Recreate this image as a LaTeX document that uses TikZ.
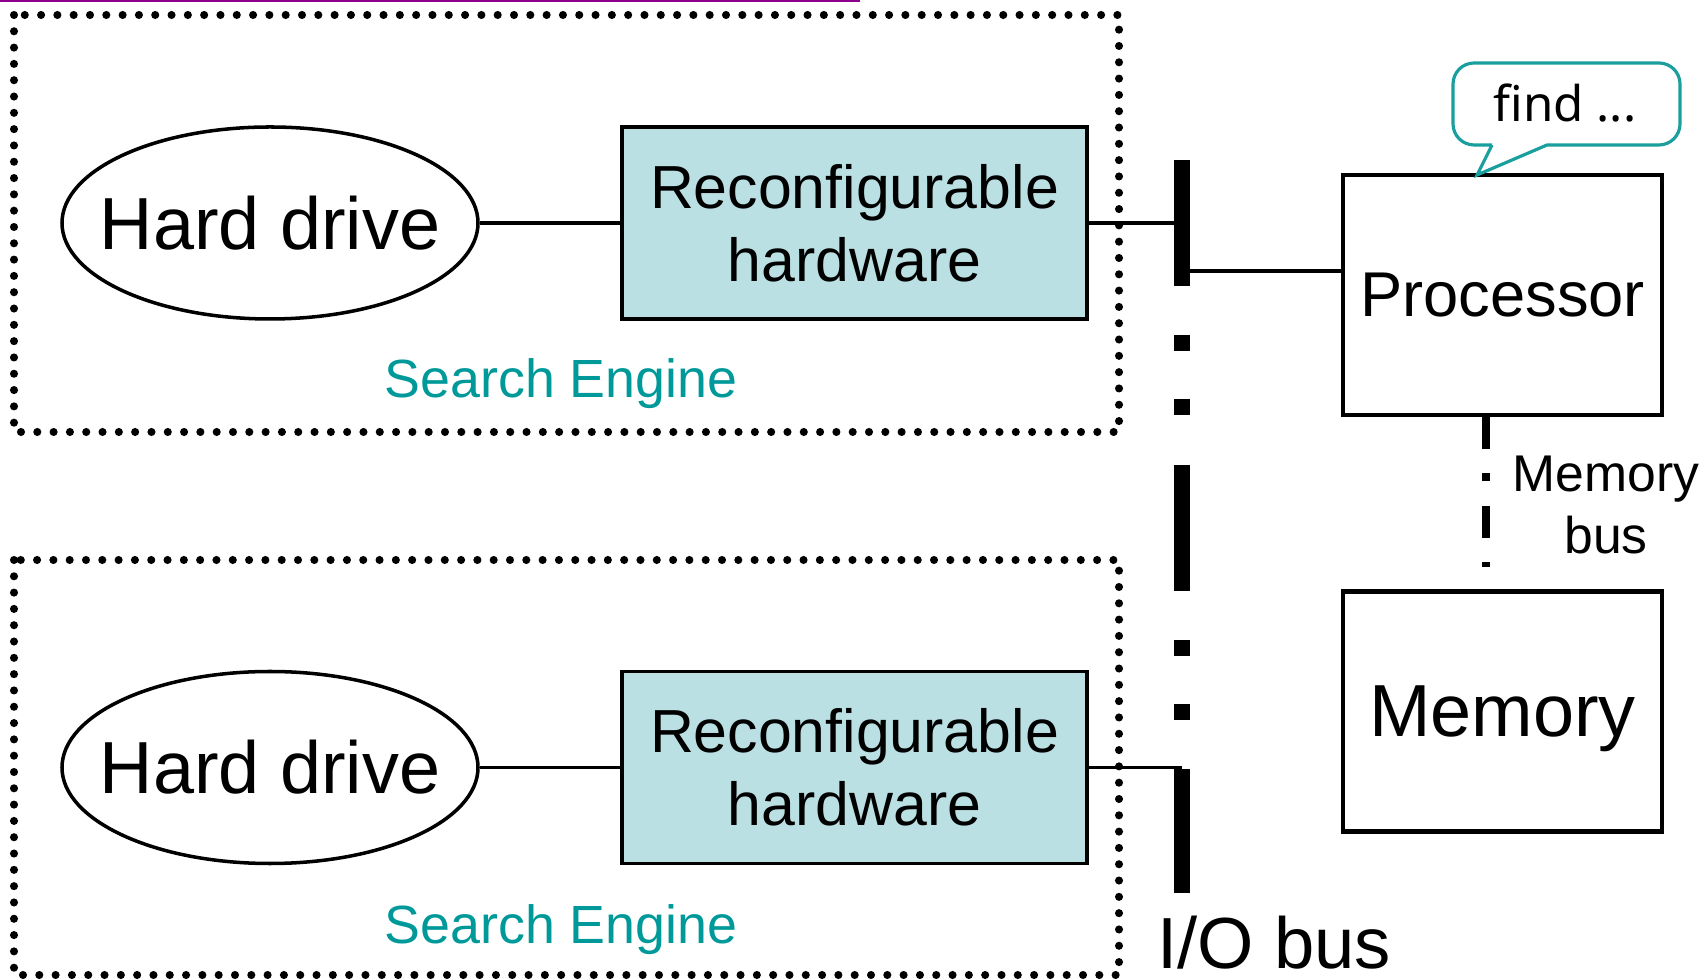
\documentclass[tikz,border=0pt]{standalone}
\usepackage{fontspec}
\setmainfont{Liberation Sans}
\newfontfamily\findfont{Noto Sans}
\usepackage{tikz}
\usetikzlibrary{shapes.geometric}
\definecolor{hwfill}{RGB}{186,224,227}
\definecolor{seteal}{RGB}{0,153,153}
\definecolor{balloon}{RGB}{26,158,158}
\definecolor{topline}{RGB}{140,0,140}
\tikzset{>=latex,
  wire/.style={line width=0.95pt},
  dotbox/.style={line width=2.3pt, line cap=round, dash pattern=on 0pt off 4.64pt},
  drive/.style={ellipse, draw, line width=1pt, minimum width=4.16cm, minimum height=1.92cm, inner xsep=-8pt, inner ysep=0pt, font=\fontsize{21}{25}\selectfont},
  rhw/.style={rectangle, draw, fill=hwfill, line width=1.1pt, minimum width=4.65cm, minimum height=1.92cm, inner sep=2pt, align=center, font=\fontsize{17.3}{20.8}\selectfont},
  unit/.style={rectangle, draw, line width=1.3pt, minimum width=3.19cm, minimum height=2.40cm, inner sep=0pt, text depth=0pt},
  selabel/.style={anchor=base, inner sep=0pt, text=seteal, font=\fontsize{15.3}{18}\selectfont},
  iobus/.style={line width=4.4pt, dash pattern=on 35.8pt off 14pt on 4.5pt off 13.7pt on 4.5pt off 14.2pt},
  membus/.style={line width=2.3pt, dash pattern=on 9.1pt off 6.8pt on 2.3pt off 7.1pt},
  callout/.style={draw=balloon, line width=0.9pt}
}

\begin{document}
\begin{tikzpicture}
\useasboundingbox (0,0) rectangle (17.07,9.79);
\draw [topline, line width=0.7pt] (0,9.78) -- (8.6,9.78);
\draw [dotbox] (0.14,9.64) rectangle (11.19,5.47);
\draw [dotbox] (0.14,4.19) rectangle (11.19,0.04);
\node [drive] (hd1) at (2.70,7.56) {Hard drive};
\node [rhw] (rh1) at (8.545,7.56) {Reconfigurable\\hardware};
\node [selabel] (se1) at (5.61,5.81) {Search Engine};
\node [drive] (hd2) at (2.70,2.115) {Hard drive};
\node [rhw] (rh2) at (8.545,2.115) {Reconfigurable\\hardware};
\node [selabel] (se2) at (5.61,0.36) {Search Engine};
\node [unit, font=\fontsize{18}{22}\selectfont] (cpu) at (15.025,6.84) {Processor};
\node [unit, font=\fontsize{21}{25}\selectfont] (mem) at (15.025,2.675) {Memory};
\coordinate (busTop) at (11.82,8.19);
\coordinate (busBot) at (11.82,0.86);
\draw [iobus] (busTop) -- (busBot);
\draw [wire] (hd1) -- (rh1);
\draw [wire] (rh1) -- (rh1 -| busTop);
\draw [wire] (hd2) -- (rh2);
\draw [wire] (rh2) -- (rh2 -| busTop);
\draw [wire] ([yshift=0.24cm]cpu.west) -- ([yshift=0.24cm]cpu.west -| busTop);
\coordinate (mbEnd) at (14.86,4.12);
\draw [membus] (cpu.south -| mbEnd) -- (mbEnd);
\node [font=\fontsize{14.7}{17.9}\selectfont, align=center, inner sep=0pt] (mbLabel) at (16.06,4.74) {Memory\\bus};
\node [anchor=base west, font=\fontsize{20.6}{24}\selectfont, inner sep=0pt] (ioLabel) at (11.57,0.11) {I/O bus};
\draw [callout] (14.92,8.34) -- (14.77,8.04) -- (15.47,8.34) [rounded corners=6pt] -- (16.80,8.34) -- (16.80,9.16) -- (14.53,9.16) -- (14.53,8.34) -- (14.92,8.34);
\node [anchor=base, inner sep=0pt, font=\findfont\fontsize{14}{17}\selectfont] (find) at (15.65,8.57) {find ...};
\end{tikzpicture}
\end{document}
